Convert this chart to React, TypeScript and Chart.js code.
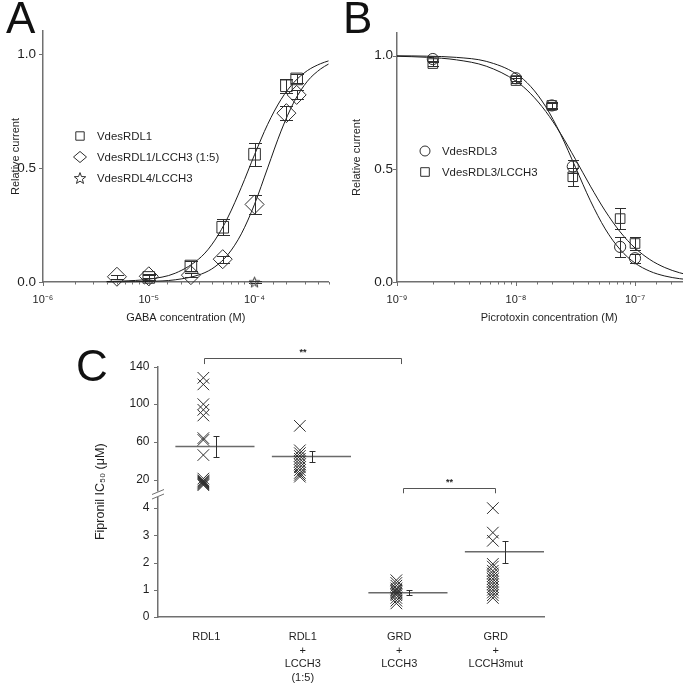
import React, { useEffect, useRef } from 'react';
import { Chart, registerables } from 'chart.js';

Chart.register(...registerables);

const FONT = "'Liberation Sans', Arial, Helvetica, sans-serif";
Chart.defaults.font.family = FONT;
Chart.defaults.color = '#1f1f1f';

const AXIS_COLOR = '#707070';
const MARK_COLOR = '#2e2e2e';
const CURVE_COLOR = '#1a1a1a';
const MEAN_COLOR = '#6a6a6a';
const TEXT_COLOR = '#1f1f1f';

// ---------------- Panel A (GABA) ----------------
const A_X_TICK_EXPONENTS = [-6, -5, -4];
const A_Y_TICKS = [0, 0.5, 1.0];
const A_RDL1_CONC = [1e-5, 2.5e-5, 5e-5, 1e-4, 2e-4, 2.5e-4];
const A_RDL1_CURRENT = [0.02, 0.07, 0.24, 0.56, 0.86, 0.89];
const A_RDL1_SEM = [0.01, 0.02, 0.035, 0.05, 0.03, 0.02];
const A_MIX_CONC = [5e-6, 1e-5, 2.5e-5, 5e-5, 1e-4, 2e-4, 2.5e-4];
const A_MIX_CURRENT = [0.023, 0.025, 0.03, 0.1, 0.34, 0.74, 0.82];
const A_MIX_SEM = [0.008, 0.008, 0.01, 0.015, 0.04, 0.03, 0.02];
const A_RDL4_CONC = [1e-4];
const A_RDL4_CURRENT = [0.0];
const A_RDL4_SEM = [0.006];
const A_FIT_CONC = [4e-6, 5.62e-6, 1e-5, 1.78e-5, 3.16e-5, 4.22e-5, 5.62e-5, 7.5e-5, 1e-4, 1.33e-4, 1.78e-4, 2.37e-4, 3.16e-4, 4.22e-4, 5e-4];
const A_FIT_RDL1 = [0.002, 0.004, 0.0125, 0.0385, 0.112, 0.1835, 0.285, 0.415, 0.558, 0.691, 0.8, 0.876, 0.9265, 0.957, 0.969];
const A_FIT_MIX = [0.0003, 0.0007, 0.0026, 0.0097, 0.0353, 0.0666, 0.121, 0.211, 0.341, 0.5, 0.6615, 0.791, 0.88, 0.934, 0.955];

// ---------------- Panel B (Picrotoxin) ----------------
const B_X_TICK_EXPONENTS = [-9, -8, -7];
const B_Y_TICKS = [0, 0.5, 1.0];
const B_CONC = [2e-9, 1e-8, 2e-8, 3e-8, 7.5e-8, 1e-7];
const B_RDL3_CURRENT = [0.985, 0.9, 0.78, 0.51, 0.155, 0.105];
const B_RDL3_SEM = [0.012, 0.012, 0.01, 0.03, 0.045, 0.02];
const B_MIX_CURRENT = [0.965, 0.89, 0.78, 0.465, 0.28, 0.17];
const B_MIX_SEM = [0.012, 0.012, 0.015, 0.04, 0.045, 0.03];
const B_FIT_CONC = [1e-9, 1.78e-9, 3.16e-9, 5.62e-9, 1e-8, 1.33e-8, 1.78e-8, 2.37e-8, 3.16e-8, 4.22e-8, 5.62e-8, 7.5e-8, 1e-7, 1.33e-7, 1.78e-7, 2.37e-7, 3.16e-7, 3.62e-7];
const B_FIT_RDL3 = [0.9993, 0.9977, 0.9923, 0.9748, 0.92, 0.8635, 0.774, 0.653, 0.5066, 0.3587, 0.2345, 0.1432, 0.0837, 0.0478, 0.0265, 0.0147, 0.0081, 0.0061];
const B_FIT_MIX = [0.9972, 0.9927, 0.9814, 0.9534, 0.8876, 0.8315, 0.7532, 0.6556, 0.542, 0.4234, 0.314, 0.2214, 0.1503, 0.0995, 0.0639, 0.0408, 0.0258, 0.0207];

// ---------------- Panel C (Fipronil IC50) ----------------
const C_GROUPS = [['RDL1'], ['RDL1', '+', 'LCCH3', '(1:5)'], ['GRD', '+', 'LCCH3'], ['GRD', '+', 'LCCH3mut']];
const C_RDL1 = [128, 121, 100, 94, 88, 64, 62, 46, 21, 19, 18, 17, 16, 15, 14];
const C_RDL1_LCCH3 = [77, 51, 48, 45, 42, 39, 36, 33, 30, 27, 25, 23];
const C_GRD_LCCH3 = [1.35, 1.25, 1.15, 1.05, 1.0, 0.95, 0.9, 0.85, 0.8, 0.7, 0.6, 0.5];
const C_GRD_LCCH3MUT = [4.0, 3.1, 2.8, 1.95, 1.85, 1.7, 1.6, 1.5, 1.4, 1.3, 1.2, 1.1, 1.0, 0.9, 0.8, 0.7];
const C_MEAN = [55, 44.4, 0.89, 2.4];
const C_SEM = [11.5, 5.8, 0.09, 0.4];
const C_UPPER_TICKS = [20, 40, 60, 80, 100, 120, 140];
const C_UPPER_LABELED = [20, 60, 100, 140];
const C_LOWER_TICKS = [0, 1, 2, 3, 4];
const C_SIGNIF = ['**', '**'];

// layout constants for panel C (category units)
const CROSS_OFFSET = 0.47;
const MEAN_START = 0.18;
const MEAN_END = 1.0;
const SEM_OFFSET = 0.6;

const SUP: Record<string, string> = { '-': '⁻', '0': '⁰', '1': '¹', '2': '²', '3': '³', '4': '⁴', '5': '⁵', '6': '⁶', '7': '⁷', '8': '⁸', '9': '⁹' };
const pow10 = (e: number) => '10' + String(e).split('').map((c) => SUP[c] || c).join('');
const logTickLabel = (exps: number[]) => (v: any) => {
  const l = Math.log10(Number(v));
  const e = Math.round(l);
  return Math.abs(l - e) < 1e-6 && exps.includes(e) ? pow10(e) : '';
};
const pts = (xs: number[], ys: number[]) => xs.map((x, i) => ({ x, y: ys[i] }));

function starPath(g: CanvasRenderingContext2D, cx: number, cy: number, R: number) {
  g.beginPath();
  for (let k = 0; k < 10; k++) {
    const r = k % 2 ? R * 0.42 : R;
    const a = -Math.PI / 2 + (k * Math.PI) / 5;
    const px = cx + r * Math.cos(a);
    const py = cy + r * Math.sin(a);
    if (k === 0) g.moveTo(px, py);
    else g.lineTo(px, py);
  }
  g.closePath();
}

function makeStar(R: number) {
  const c = document.createElement('canvas');
  const size = Math.ceil(R * 2 + 4);
  c.width = size;
  c.height = size;
  const g = c.getContext('2d')!;
  g.strokeStyle = MARK_COLOR;
  g.lineWidth = 1;
  starPath(g, size / 2, size / 2 + R * 0.1, R);
  g.stroke();
  return c;
}

function drawShape(ctx: CanvasRenderingContext2D, shape: string, x: number, y: number, s: number) {
  if (shape === 'star') {
    starPath(ctx, x, y + s * 0.1, s);
    ctx.stroke();
    return;
  }
  ctx.beginPath();
  if (shape === 'rect') ctx.rect(x - s, y - s, 2 * s, 2 * s);
  else if (shape === 'diamond') {
    ctx.moveTo(x, y - s * 0.85);
    ctx.lineTo(x + s, y);
    ctx.lineTo(x, y + s * 0.85);
    ctx.lineTo(x - s, y);
    ctx.closePath();
  } else if (shape === 'circle') ctx.arc(x, y, s, 0, Math.PI * 2);
  ctx.stroke();
}

function errorBarsPlugin(capHalf: number) {
  return {
    id: 'errorBars',
    afterDatasetsDraw(chart: any) {
      const ctx = chart.ctx;
      ctx.save();
      ctx.strokeStyle = MARK_COLOR;
      ctx.lineWidth = 1;
      chart.data.datasets.forEach((ds: any, i: number) => {
        if (!ds.errorBars) return;
        const meta = chart.getDatasetMeta(i);
        const xs = chart.scales[meta.xAxisID];
        const ys = chart.scales[meta.yAxisID];
        ds.data.forEach((p: any, j: number) => {
          const e = ds.errorBars[j];
          if (e == null) return;
          const x = Math.round(xs.getPixelForValue(p.x)) + 0.5;
          const y1 = Math.round(ys.getPixelForValue(p.y + e)) + 0.5;
          const y0 = Math.round(ys.getPixelForValue(p.y - e)) + 0.5;
          ctx.beginPath();
          ctx.moveTo(x, y1);
          ctx.lineTo(x, y0);
          ctx.moveTo(x - capHalf, y1);
          ctx.lineTo(x + capHalf, y1);
          ctx.moveTo(x - capHalf, y0);
          ctx.lineTo(x + capHalf, y0);
          ctx.stroke();
        });
      });
      ctx.restore();
    },
  };
}

function tickMarksPlugin(cfg: Record<string, { major: number; minor: number }>) {
  return {
    id: 'tickMarks',
    afterDraw(chart: any) {
      const ctx = chart.ctx;
      ctx.save();
      ctx.strokeStyle = AXIS_COLOR;
      ctx.lineWidth = 1;
      Object.keys(cfg).forEach((id) => {
        const s = chart.scales[id];
        if (!s) return;
        const c = cfg[id];
        s.ticks.forEach((t: any) => {
          const major = t.label !== '' && t.label != null;
          const len = major ? c.major : c.minor;
          if (!len) return;
          const p = Math.round(s.getPixelForValue(t.value)) + 0.5;
          ctx.beginPath();
          if (s.isHorizontal()) {
            ctx.moveTo(p, s.top);
            ctx.lineTo(p, s.top + len);
          } else {
            ctx.moveTo(s.right, p);
            ctx.lineTo(s.right - len, p);
          }
          ctx.stroke();
        });
      });
      ctx.restore();
    },
  };
}

function legendPlugin(markerX: number, textX: number, firstY: number, gap: number, fontSize: number) {
  return {
    id: 'insetLegend',
    afterDraw(chart: any) {
      const ctx = chart.ctx;
      const items = chart.data.datasets.filter((d: any) => d.legendShape);
      ctx.save();
      ctx.font = `${fontSize}px ${FONT}`;
      ctx.fillStyle = TEXT_COLOR;
      ctx.textBaseline = 'middle';
      ctx.textAlign = 'left';
      ctx.strokeStyle = MARK_COLOR;
      ctx.lineWidth = 1;
      items.forEach((d: any, k: number) => {
        const y = firstY + k * gap;
        drawShape(ctx, d.legendShape, markerX, y, d.legendSize);
        ctx.fillText(d.label, textX, y + 0.5);
      });
      ctx.restore();
    },
  };
}

function letterPlugin(letter: string, x: number, y: number) {
  return {
    id: 'panelLetter',
    afterDraw(chart: any) {
      const ctx = chart.ctx;
      ctx.save();
      ctx.font = `44px ${FONT}`;
      ctx.fillStyle = '#111';
      ctx.textBaseline = 'alphabetic';
      ctx.textAlign = 'left';
      ctx.fillText(letter, x, y);
      ctx.restore();
    },
  };
}

const cExtras = {
  id: 'cExtras',
  afterDraw(chart: any) {
    const { ctx, chartArea } = chart;
    const xs = chart.scales.x;
    const yTop = chart.scales.yTop;
    ctx.save();
    // axis break
    const ax = chartArea.left;
    const b = yTop.bottom;
    ctx.fillStyle = '#ffffff';
    ctx.fillRect(ax - 2, b - 3, 4, 5.5);
    ctx.strokeStyle = AXIS_COLOR;
    ctx.lineWidth = 1;
    [-2.5, 2].forEach((d) => {
      ctx.beginPath();
      ctx.moveTo(ax - 6, b + d + 2.5);
      ctx.lineTo(ax + 6, b + d - 2.5);
      ctx.stroke();
    });
    // significance brackets
    const brackets = [
      { from: 0.48, to: 2.52, y: 148.7, drop: 142.6 },
      { from: 2.54, to: 3.49, y: 11.3, drop: 5.4 },
    ];
    ctx.strokeStyle = '#555';
    ctx.fillStyle = TEXT_COLOR;
    ctx.font = `bold 9px ${FONT}`;
    ctx.textAlign = 'center';
    ctx.textBaseline = 'bottom';
    brackets.forEach((br, k) => {
      const x0 = Math.round(xs.getPixelForValue(br.from)) + 0.5;
      const x1 = Math.round(xs.getPixelForValue(br.to)) + 0.5;
      const y = Math.round(yTop.getPixelForValue(br.y)) + 0.5;
      const yd = yTop.getPixelForValue(br.drop);
      ctx.beginPath();
      ctx.moveTo(x0, yd);
      ctx.lineTo(x0, y);
      ctx.lineTo(x1, y);
      ctx.lineTo(x1, yd);
      ctx.stroke();
      ctx.fillText(C_SIGNIF[k], (x0 + x1) / 2, y - 1);
    });
    // y title
    ctx.translate(101, (chartArea.top + chartArea.bottom) / 2);
    ctx.rotate(-Math.PI / 2);
    ctx.font = `12.5px ${FONT}`;
    ctx.textBaseline = 'middle';
    ctx.fillText('Fipronil IC₅₀ (μM)', 0, 0);
    ctx.restore();
  },
};

const axisBase = {
  grid: { display: false, drawTicks: false },
  border: { display: true, color: AXIS_COLOR, width: 1.5 },
};

function curveDataset(label: string, xs: number[], ys: number[]) {
  return {
    type: 'line',
    label,
    data: pts(xs, ys),
    showLine: true,
    borderColor: CURVE_COLOR,
    borderWidth: 1,
    pointRadius: 0,
    fill: false,
    cubicInterpolationMode: 'monotone',
    clip: false,
  };
}

function markerDataset(label: string, xs: number[], ys: number[], errs: number[], pointStyle: any, radius: number, legendShape: string, legendSize: number) {
  return {
    type: 'scatter',
    label,
    data: pts(xs, ys),
    errorBars: errs,
    pointStyle,
    pointRadius: radius,
    pointBorderColor: MARK_COLOR,
    pointBackgroundColor: 'rgba(0,0,0,0)',
    pointBorderWidth: 1,
    borderColor: MARK_COLOR,
    backgroundColor: 'rgba(0,0,0,0)',
    clip: false,
    legendShape,
    legendSize,
  };
}

export default function App() {
  const refA = useRef<HTMLCanvasElement>(null);
  const refB = useRef<HTMLCanvasElement>(null);
  const refC = useRef<HTMLCanvasElement>(null);

  useEffect(() => {
    const star = makeStar(5.5);
    const common = {
      responsive: false,
      animation: false,
      events: [],
      plugins: { legend: { display: false }, tooltip: { enabled: false } },
    };

    const xLogTicks = { autoSkip: false, maxRotation: 0, padding: 11.5, font: { size: 11 }, color: TEXT_COLOR };
    const xTitle = { display: true, font: { size: 11 }, color: TEXT_COLOR, padding: { top: 0, bottom: 5.4 } };

    const chartA = new Chart(refA.current!, {
      type: 'scatter',
      data: {
        datasets: [
          markerDataset('VdesRDL1', A_RDL1_CONC, A_RDL1_CURRENT, A_RDL1_SEM, 'rect', 8.2, 'rect', 4.2),
          markerDataset('VdesRDL1/LCCH3 (1:5)', A_MIX_CONC, A_MIX_CURRENT, A_MIX_SEM, 'rectRot', 9.5, 'diamond', 6.5),
          markerDataset('VdesRDL4/LCCH3', A_RDL4_CONC, A_RDL4_CURRENT, A_RDL4_SEM, star, 6, 'star', 6),
          curveDataset('fit RDL1', A_FIT_CONC, A_FIT_RDL1),
          curveDataset('fit RDL1/LCCH3', A_FIT_CONC, A_FIT_MIX),
        ] as any,
      },
      options: {
        ...common,
        layout: { padding: { left: 0, top: 31, right: 10, bottom: 0 } },
        scales: {
          x: {
            ...axisBase,
            type: 'logarithmic',
            min: 1e-6,
            max: 5e-4,
            ticks: { ...xLogTicks, callback: logTickLabel(A_X_TICK_EXPONENTS) },
            title: { ...xTitle, text: 'GABA concentration (M)' },
            afterFit: (s: any) => { s.height = 48; },
          },
          y: {
            ...axisBase,
            type: 'linear',
            min: 0,
            max: 1.1,
            afterBuildTicks: (s: any) => { s.ticks = A_Y_TICKS.map((v) => ({ value: v })); },
            ticks: { padding: 7, font: { size: 13.5 }, color: TEXT_COLOR, callback: (v: any) => Number(v).toFixed(1) },
            title: { display: true, text: 'Relative current', font: { size: 11 }, color: TEXT_COLOR, padding: { top: 9.4, bottom: 0 } },
            afterFit: (s: any) => { s.width = 43; },
          },
        },
      } as any,
      plugins: [errorBarsPlugin(6.5), tickMarksPlugin({ x: { major: 4, minor: 2.5 }, y: { major: 4, minor: 0 } }), legendPlugin(80, 97, 136, 21, 11.4), letterPlugin('A', 6, 33)],
    });

    const chartB = new Chart(refB.current!, {
      type: 'scatter',
      data: {
        datasets: [
          markerDataset('VdesRDL3', B_CONC, B_RDL3_CURRENT, B_RDL3_SEM, 'circle', 5.6, 'circle', 5),
          markerDataset('VdesRDL3/LCCH3', B_CONC, B_MIX_CURRENT, B_MIX_SEM, 'rect', 6.8, 'rect', 4.3),
          curveDataset('fit RDL3', B_FIT_CONC, B_FIT_RDL3),
          curveDataset('fit RDL3/LCCH3', B_FIT_CONC, B_FIT_MIX),
        ] as any,
      },
      options: {
        ...common,
        layout: { padding: { left: 0, top: 33, right: 0, bottom: 0 } },
        scales: {
          x: {
            ...axisBase,
            type: 'logarithmic',
            min: 1e-9,
            max: 3.62e-7,
            ticks: { ...xLogTicks, callback: logTickLabel(B_X_TICK_EXPONENTS) },
            title: { ...xTitle, text: 'Picrotoxin concentration (M)' },
            afterFit: (s: any) => { s.height = 48; },
          },
          y: {
            ...axisBase,
            type: 'linear',
            min: 0,
            max: 1.1,
            afterBuildTicks: (s: any) => { s.ticks = B_Y_TICKS.map((v) => ({ value: v })); },
            ticks: { padding: 4, font: { size: 13.5 }, color: TEXT_COLOR, callback: (v: any) => Number(v).toFixed(1) },
            title: { display: true, text: 'Relative current', font: { size: 11 }, color: TEXT_COLOR, padding: { top: 10.1, bottom: 0 } },
            afterFit: (s: any) => { s.width = 57; },
          },
        },
      } as any,
      plugins: [errorBarsPlugin(5.5), tickMarksPlugin({ x: { major: 4, minor: 2.5 }, y: { major: 4, minor: 0 } }), legendPlugin(85, 102, 151, 21, 11.4), letterPlugin('B', 3, 33)],
    });

    const groupX = (g: number, off: number) => g + off;
    const crosses = (g: number, vals: number[], axis: string) => ({
      type: 'scatter',
      label: C_GROUPS[g].join(' '),
      data: vals.map((v) => ({ x: groupX(g, CROSS_OFFSET), y: v })),
      yAxisID: axis,
      pointStyle: 'crossRot',
      pointRadius: 8.2,
      pointBorderColor: MARK_COLOR,
      pointBorderWidth: 1,
      borderColor: MARK_COLOR,
      clip: false,
    });
    const meanLine = (g: number, axis: string) => ({
      type: 'line',
      label: 'mean ' + g,
      data: [{ x: groupX(g, MEAN_START), y: C_MEAN[g] }, { x: groupX(g, MEAN_END), y: C_MEAN[g] }],
      yAxisID: axis,
      showLine: true,
      borderColor: MEAN_COLOR,
      borderWidth: 1.5,
      pointRadius: 0,
      fill: false,
      clip: false,
    });
    const semSet = (groups: number[], axis: string) => ({
      type: 'scatter',
      label: 'sem',
      data: groups.map((g) => ({ x: groupX(g, SEM_OFFSET), y: C_MEAN[g] })),
      errorBars: groups.map((g) => C_SEM[g]),
      yAxisID: axis,
      pointRadius: 0,
      clip: false,
    });

    const yCommon = {
      ...axisBase,
      type: 'linear',
      position: 'left',
      stack: 'fip',
      afterFit: (s: any) => { s.width = 158; },
    };

    const chartC = new Chart(refC.current!, {
      type: 'scatter',
      data: {
        datasets: [
          crosses(0, C_RDL1, 'yTop'),
          crosses(1, C_RDL1_LCCH3, 'yTop'),
          crosses(2, C_GRD_LCCH3, 'yBot'),
          crosses(3, C_GRD_LCCH3MUT, 'yBot'),
          meanLine(0, 'yTop'),
          meanLine(1, 'yTop'),
          meanLine(2, 'yBot'),
          meanLine(3, 'yBot'),
          semSet([0, 1], 'yTop'),
          semSet([2, 3], 'yBot'),
        ] as any,
      },
      options: {
        ...common,
        layout: { padding: { left: 0, top: 36.5, right: 139, bottom: 0 } },
        scales: {
          x: {
            ...axisBase,
            type: 'linear',
            min: 0,
            max: 4,
            afterBuildTicks: (s: any) => { s.ticks = C_GROUPS.map((_, i) => ({ value: i + 0.5 })); },
            ticks: { autoSkip: false, maxRotation: 0, padding: 13.5, font: { size: 11, lineHeight: 1.227 }, color: TEXT_COLOR, callback: (v: any) => C_GROUPS[Math.round(Number(v) - 0.5)] },
            afterFit: (s: any) => { s.height = 66; },
          },
          yBot: {
            ...yCommon,
            weight: 1,
            stackWeight: 122.5,
            min: 0,
            max: 4.5,
            afterBuildTicks: (s: any) => { s.ticks = C_LOWER_TICKS.map((v) => ({ value: v })); },
            ticks: { padding: 8.5, font: { size: 12 }, color: TEXT_COLOR, callback: (v: any) => String(v) },
          },
          yTop: {
            ...yCommon,
            weight: 2,
            stackWeight: 128,
            min: 4.1,
            max: 140,
            afterBuildTicks: (s: any) => { s.ticks = C_UPPER_TICKS.map((v) => ({ value: v })); },
            ticks: { padding: 8.5, font: { size: 12 }, color: TEXT_COLOR, callback: (v: any) => (C_UPPER_LABELED.includes(Number(v)) ? String(v) : '') },
          },
        },
      } as any,
      plugins: [errorBarsPlugin(3), tickMarksPlugin({ yTop: { major: 4, minor: 2.5 }, yBot: { major: 4, minor: 0 } }), cExtras, letterPlugin('C', 76, 51)],
    });

    return () => {
      chartA.destroy();
      chartB.destroy();
      chartC.destroy();
    };
  }, []);

  return (
    <div style={{ position: 'absolute', left: 0, top: 0, width: 683, height: 683, overflow: 'hidden', background: '#fff' }}>
      <canvas ref={refA} width={340} height={330} style={{ position: 'absolute', left: 0, top: 0, width: 340, height: 330 }} />
      <canvas ref={refB} width={373} height={330} style={{ position: 'absolute', left: 340, top: 0, width: 373, height: 330 }} />
      <canvas ref={refC} width={683} height={353} style={{ position: 'absolute', left: 0, top: 330, width: 683, height: 353 }} />
    </div>
  );
}
